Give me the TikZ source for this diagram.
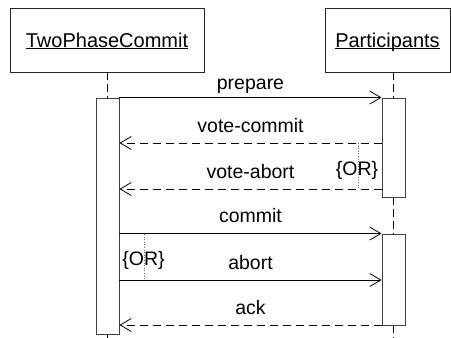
\documentclass[tikz,border=0pt]{standalone}
\usepackage{fontspec}
\setmainfont{Liberation Sans}
\usetikzlibrary{arrows.meta}
\newcommand\myul[1]{\setbox0\hbox{#1}\rlap{\rule[-2pt]{\wd0}{0.9pt}}\box0}
\tikzset{
  objbox/.style={draw=black!85, line width=0.9pt, inner sep=0pt, text height=14pt, text depth=0pt, font=\fontsize{20}{23}\selectfont},
  actbar/.style={draw=black!75, line width=0.9pt, fill=white, inner sep=0pt, minimum width=23pt},
  lifeline/.style={draw=black, line width=0.9pt, dash pattern=on 8pt off 4pt},
  msg/.style={draw=black, line width=0.8pt, -{Straight Barb[length=11pt,width=13pt,line width=0.8pt]}},
  reply/.style={msg, dash pattern=on 8pt off 5pt},
  ordot/.style={draw=black!60, line width=0.6pt, dotted},
  lbl/.style={anchor=base, inner sep=0pt, font=\fontsize{19.5}{22}\selectfont}
}
\begin{document}
\begin{tikzpicture}[x=1pt, y=-1pt, font=\fontsize{19.5}{22}\selectfont]
\useasboundingbox (0,0) rectangle (451,338);
% objects
\node[objbox, minimum width=194pt, minimum height=64pt] (tpc) at (107,40) {\myul{TwoPhaseCommit}};
\node[objbox, minimum width=125pt, minimum height=64pt] (par) at (387.5,40) {\myul{Participants}};
% end points of lifelines
\coordinate (tpcend) at (107.5,338);
\coordinate (parend) at (393.5,338);
% activation bars
\node[actbar, minimum height=236pt] (act) at (107.5,216) {};
\node[actbar, minimum height=99pt] (pa1) at (393.5,147.5) {};
\node[actbar, minimum height=91pt] (pa2) at (393.5,279.5) {};
% lifelines
\draw[lifeline] (tpc.south -| act.north) -- (act.north);
\draw[lifeline] (act.south) -- (tpcend);
\draw[lifeline] (par.south -| pa1.north) -- (pa1.north);
\draw[lifeline] (pa1.south) -- (pa2.north);
\draw[lifeline] (pa2.south) -- (parend);
% message levels
\coordinate (yvc) at (0,143);
\coordinate (yva) at (0,189);
\coordinate (yab) at (0,280);
\coordinate (yack) at (0,325);
% messages
\draw[msg] (act.east |- pa1.north) -- (pa1.north west)
  node[lbl, pos=0.5, yshift=8.5pt] (lprep) {prepare};
\draw[reply] (pa1.west |- yvc) -- (act.east |- yvc)
  node[lbl, pos=0.5, yshift=10.5pt] (lvc) {vote-commit};
\draw[reply] (pa1.west |- yva) -- (act.east |- yva)
  node[lbl, pos=0.5, yshift=11pt] (lva) {vote-abort};
\draw[msg] (act.east |- pa2.north) -- (pa2.north west)
  node[lbl, pos=0.5, yshift=11pt] (lcom) {commit};
\draw[msg] (act.east |- yab) -- (pa2.west |- yab)
  node[lbl, pos=0.5, yshift=11pt] (labt) {abort};
\draw[reply] (pa2.west |- yack) -- (act.east |- yack)
  node[lbl, pos=0.5, yshift=11pt] (lack) {ack};
% OR constraints
\coordinate (or1a) at (358,143);
\coordinate (or1b) at (358,189);
\draw[ordot] (or1a) -- (or1b);
\node[lbl] (or1) at (357,175) {\{OR\}};
\coordinate (or2a) at (144,234);
\coordinate (or2b) at (144,280);
\draw[ordot] (or2a) -- (or2b);
\node[lbl] (or2) at (143.5,265) {\{OR\}};
\end{tikzpicture}
\end{document}
